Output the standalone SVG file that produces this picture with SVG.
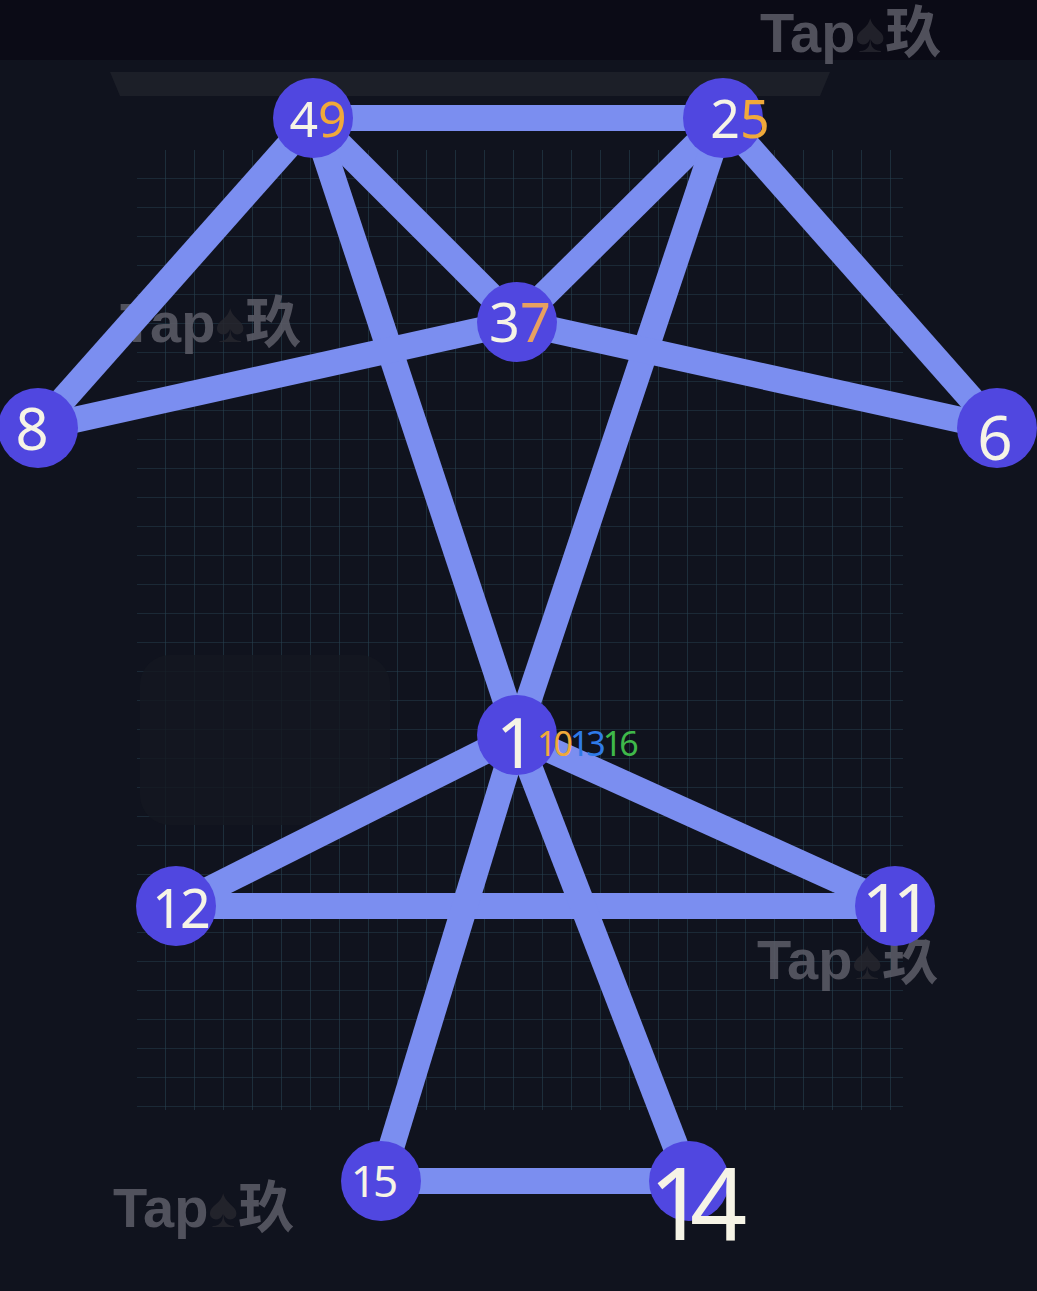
<svg xmlns="http://www.w3.org/2000/svg" width="1037" height="1291" viewBox="0 0 1037 1291">
<defs>
<pattern id="grid" width="29" height="29" patternUnits="userSpaceOnUse" x="137" y="150">
<path d="M29 0V29H0" fill="none" stroke="#2f5363" stroke-width="1.2" opacity="0.7"/>
</pattern>
<style>
.edge{stroke:#7b8ef0;stroke-width:26;stroke-linecap:butt;fill:none}
.node{fill:#5047e0}
.lbl{font-family:"Noto Sans","DejaVu Sans",sans-serif;fill:#f6f4e6;text-anchor:middle}
.wm{font-family:"Liberation Sans","Noto Sans CJK SC",sans-serif;font-weight:bold;font-size:56px;fill:#5d5d68;opacity:0.85}
.sp{fill:#26262e;font-size:56px}
</style>
</defs>
<rect width="1037" height="1291" fill="#10131e"/>
<rect x="0" y="0" width="1037" height="60" fill="#0b0b16"/>
<path d="M110 72H830L820 96H120Z" fill="#1c1f28"/>
<rect x="137" y="150" width="766" height="960" fill="url(#grid)"/>
<rect x="140" y="655" width="250" height="170" rx="30" fill="#141821" opacity="0.8"/>
<g id="watermarks">
<text class="wm" x="760" y="52">Tap<tspan class="sp">♠</tspan>玖</text>
<text class="wm" x="120" y="342">Tap<tspan class="sp">♠</tspan>玖</text>
<text class="wm" x="757" y="979">Tap<tspan class="sp">♠</tspan>玖</text>
<text class="wm" x="113" y="1227">Tap<tspan class="sp">♠</tspan>玖</text>
</g>
<g id="connectors">
<line class="edge" x1="313" y1="118" x2="723" y2="118"/>
<line class="edge" x1="313" y1="118" x2="38" y2="428"/>
<line class="edge" x1="313" y1="118" x2="517" y2="322"/>
<line class="edge" x1="313" y1="118" x2="517" y2="735"/>
<line class="edge" x1="723" y1="118" x2="517" y2="322"/>
<line class="edge" x1="723" y1="118" x2="997" y2="428"/>
<line class="edge" x1="723" y1="118" x2="517" y2="735"/>
<line class="edge" x1="517" y1="322" x2="38" y2="428"/>
<line class="edge" x1="517" y1="322" x2="997" y2="428"/>
<line class="edge" x1="517" y1="735" x2="176" y2="906"/>
<line class="edge" x1="517" y1="735" x2="895" y2="906"/>
<line class="edge" x1="176" y1="906" x2="895" y2="906"/>
<line class="edge" x1="517" y1="735" x2="381" y2="1181"/>
<line class="edge" x1="517" y1="735" x2="689" y2="1181"/>
<line class="edge" x1="381" y1="1181" x2="689" y2="1181"/>
</g>
<g id="n49"><circle class="node" cx="313" cy="118" r="40"/><text class="lbl" x="318" y="137" style="font-size:50px">4<tspan fill="#f0a93a">9</tspan></text></g>
<g id="n25"><circle class="node" cx="723" cy="118" r="40"/><text class="lbl" x="740" y="138" style="font-size:52px">2<tspan fill="#f0a93a">5</tspan></text></g>
<g id="n37"><circle class="node" cx="517" cy="322" r="40"/><text class="lbl" x="520" y="342" style="font-size:54px">3<tspan fill="#e8a060">7</tspan></text></g>
<g id="n8"><circle class="node" cx="38" cy="428" r="40"/><text class="lbl" x="32" y="450" style="font-size:58px">8</text></g>
<g id="n6"><circle class="node" cx="997" cy="428" r="40"/><text class="lbl" x="995" y="460" style="font-size:62px">6</text></g>
<g id="n1"><circle class="node" cx="517" cy="735" r="40"/><text class="lbl" x="516" y="768" style="font-size:70px">1</text>
<text x="537" y="756" font-family="'Noto Sans',sans-serif" style="font-size:34px;letter-spacing:-3px"><tspan fill="#f0a93a">10</tspan><tspan fill="#2f7be8">13</tspan><tspan fill="#3fb84a">16</tspan></text></g>
<g id="n12"><circle class="node" cx="176" cy="906" r="40"/><text class="lbl" x="180" y="928" style="font-size:54px;letter-spacing:-3px">12</text></g>
<g id="n11"><circle class="node" cx="895" cy="906" r="40"/><text class="lbl" x="893" y="932" style="font-size:68px;letter-spacing:-8px">11</text></g>
<g id="n15"><circle class="node" cx="381" cy="1181" r="40"/><text class="lbl" x="373" y="1197" style="font-size:44px;letter-spacing:-3px">15</text></g>
<g id="n14"><circle class="node" cx="689" cy="1181" r="40"/><text class="lbl" x="690" y="1240" style="font-size:100px;letter-spacing:-16px">14</text></g>
</svg>
